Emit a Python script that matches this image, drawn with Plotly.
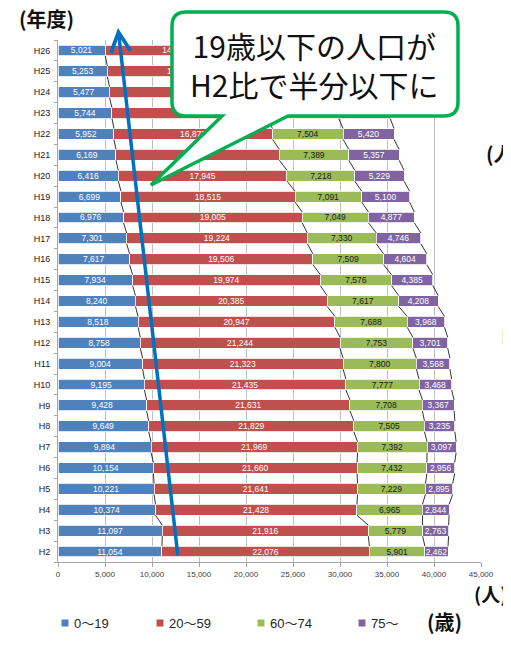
import plotly.graph_objects as go

# ---------------- data ----------------
years = ["H2", "H3", "H4", "H5", "H6", "H7", "H8", "H9", "H10", "H11", "H12", "H13",
         "H14", "H15", "H16", "H17", "H18", "H19", "H20", "H21", "H22", "H23", "H24", "H25", "H26"]
age_0_19 = [11054, 11097, 10374, 10221, 10154, 9894, 9649, 9428, 9195, 9004, 8758, 8518,
            8240, 7934, 7617, 7301, 6976, 6699, 6416, 6169, 5952, 5744, 5477, 5253, 5021]
age_20_59 = [22076, 21916, 21428, 21641, 21660, 21969, 21829, 21631, 21435, 21323, 21244, 20947,
             20385, 19974, 19506, 19224, 19005, 18515, 17945, 17380, 16873, 16420, 15960, 15470, 14960]
age_60_74 = [5901, 5779, 6965, 7229, 7432, 7392, 7505, 7708, 7777, 7800, 7753, 7688,
             7617, 7576, 7509, 7330, 7049, 7091, 7218, 7389, 7504, 7700, 7900, 8150, 8400]
age_75_up = [2462, 2763, 2844, 2895, 2956, 3097, 3235, 3367, 3468, 3568, 3701, 3968,
             4208, 4385, 4604, 4746, 4877, 5100, 5229, 5357, 5420, 5480, 5560, 5620, 5700]
series_names = ["0〜19", "20〜59", "60〜74", "75〜"]
x_ticks = [0, 5000, 10000, 15000, 20000, 25000, 30000, 35000, 40000, 45000]
# data labels hidden behind the callout in the original (series index -> hidden years)
hidden_labels = {1: {"H21", "H23", "H24"}, 2: {"H23", "H24", "H25", "H26"},
                 3: {"H23", "H24", "H25", "H26"}}

series = [age_0_19, age_20_59, age_60_74, age_75_up]
colors = ["#4F81BD", "#C0504D", "#9BBB59", "#8064A2"]
label_colors = ["white", "white", "#1a1a1a", "white"]

# page is offset by the default 8px body margin
OFF = 8
PAGE_W, PAGE_H = 511, 645
W, H = PAGE_W - OFF, PAGE_H - OFF
PL, PR, PT, PB = 58, 481, 40, 562          # plot area in page pixels
ML, MT = PL - OFF, PT - OFF
MR, MB = W - (PR - OFF), H - (PB - OFF)
PW, PH = PR - PL, PB - PT


def X(px):
    return (px - PL) / PW


def Y(py):
    return (PB - py) / PH


fig = go.Figure()

for si, (vals, name, col, lc) in enumerate(zip(series, series_names, colors, label_colors)):
    hid = hidden_labels.get(si, set())
    txt = ["" if yr in hid else f"{v:,}" for yr, v in zip(years, vals)]
    fig.add_trace(go.Bar(
        y=years, x=vals, name=name, orientation="h",
        marker=dict(color=col, line=dict(color="white", width=0.8)),
        width=0.52,
        text=txt, texttemplate="%{text}", textposition="inside", insidetextanchor="middle",
        constraintext="none",
        textfont=dict(size=8.5, color=lc, family="Liberation Sans"),
        showlegend=False,
    ))

# series lines (Excel style connectors between stacked segment edges)
cums = []
run = [0] * len(years)
for vals in series:
    run = [a + b for a, b in zip(run, vals)]
    cums.append(run)
hw = 0.26
lx, ly = [], []
for cum in cums:
    for i in range(len(years) - 1):
        lx += [cum[i], cum[i + 1], None]
        ly += [i + hw, i + 1 - hw, None]
fig.add_trace(go.Scatter(x=lx, y=ly, mode="lines", yaxis="y2",
                         line=dict(color="black", width=0.8), showlegend=False,
                         hoverinfo="skip"))

fig.update_layout(
    width=W, height=H,
    margin=dict(l=ML, r=MR, t=MT, b=MB, autoexpand=False),
    barmode="stack",
    bargap=0.48,
    plot_bgcolor="white", paper_bgcolor="white",
    font=dict(family="Liberation Sans, Noto Sans CJK JP", color="#262626"),
    showlegend=False,
    xaxis=dict(range=[0, 45000], tickvals=x_ticks, tickformat=",",
               showgrid=True, gridcolor="#BFBFBF", gridwidth=1,
               showline=True, linecolor="#A6A6A6", linewidth=1,
               ticks="outside", ticklen=4, tickcolor="#A6A6A6",
               tickfont=dict(size=8, color="#404040"), zeroline=False, fixedrange=True,
               automargin=False),
    yaxis=dict(type="category", categoryorder="array", categoryarray=years,
               range=[-0.5, len(years) - 0.5],
               showline=True, linecolor="#A6A6A6", linewidth=1,
               ticks="outside", tickson="boundaries", ticklen=3, tickcolor="#A6A6A6",
               tickfont=dict(size=9, color="#1a1a1a"), showgrid=False,
               ticklabelstandoff=5, automargin=False),
    yaxis2=dict(overlaying="y", range=[-0.5, len(years) - 0.5], visible=False),
)


def make_path(pts, close=True):
    s = ""
    for cmd, ps in pts:
        s += cmd + " ".join(f"{X(px):.5f},{Y(py):.5f}" for px, py in ps) + " "
    return s + ("Z" if close else "")


shapes = []
# callout bubble
Lc, Rc, Tc, Bc, r = 172, 458, 12, 116, 14
pts = [
    ("M", [(Lc + r, Tc)]),
    ("L", [(Rc - r, Tc)]),
    ("Q", [(Rc, Tc), (Rc, Tc + r)]),
    ("L", [(Rc, Bc - r)]),
    ("Q", [(Rc, Bc), (Rc - r, Bc)]),
    ("L", [(288, Bc)]),
    ("L", [(151, 185)]),
    ("L", [(222, Bc)]),
    ("L", [(Lc + r, Bc)]),
    ("Q", [(Lc, Bc), (Lc, Bc - r)]),
    ("L", [(Lc, Tc + r)]),
    ("Q", [(Lc, Tc), (Lc + r, Tc)]),
]
shapes.append(dict(type="path", xref="paper", yref="paper", path=make_path(pts),
                   line=dict(color="#00B050", width=3.5), fillcolor="white", layer="above"))

# partial neighbouring callout at right edge
L2, R2, T2, B2, r2 = 510, 560, 29, 111, 10
pts2 = [
    ("M", [(R2, T2)]), ("L", [(L2 + r2, T2)]), ("Q", [(L2, T2), (L2, T2 + r2)]),
    ("L", [(L2, B2 - r2)]), ("Q", [(L2, B2), (L2 + r2, B2)]), ("L", [(R2, B2)]),
]
shapes.append(dict(type="path", xref="paper", yref="paper", path=make_path(pts2),
                   line=dict(color="#00B050", width=3), fillcolor="white", layer="above"))

# legend squares
leg_sq = [65, 160, 261, 362]
leg_tx = [72, 167, 268, 369]
for c, col in zip(leg_sq, colors):
    shapes.append(dict(type="rect", xref="paper", yref="paper",
                       x0=X(c - 3.5), x1=X(c + 3.5), y0=Y(626.5), y1=Y(619.5),
                       fillcolor=col, line=dict(width=0)))
fig.update_layout(shapes=shapes)

annotations = []
for tx, name in zip(leg_tx, series_names):
    annotations.append(dict(x=X(tx), y=Y(623), xref="paper", yref="paper", text=name,
                            showarrow=False, xanchor="left", yanchor="middle",
                            font=dict(size=13, color="#262626",
                                      family="Liberation Sans, Noto Sans CJK JP")))
cjk = "Noto Sans CJK JP"
annotations += [
    dict(x=X(314), y=Y(65), xref="paper", yref="paper",
         text="19歳以下の人口が<br>H2比で半分以下に",
         showarrow=False, xanchor="center", yanchor="middle", align="center",
         font=dict(size=30, color="#111111", family=cjk)),
    dict(x=X(17), y=Y(18), xref="paper", yref="paper", text="<b>(年度)</b>",
         showarrow=False, xanchor="left", yanchor="middle",
         font=dict(size=20, color="#111111", family=cjk)),
    dict(x=X(472), y=Y(593), xref="paper", yref="paper", text="<b>(人)</b>",
         showarrow=False, xanchor="left", yanchor="middle",
         font=dict(size=19, color="#111111", family=cjk)),
    dict(x=X(425), y=Y(621), xref="paper", yref="paper", text="<b>(歳)</b>",
         showarrow=False, xanchor="left", yanchor="middle",
         font=dict(size=20, color="#111111", family=cjk)),
    dict(x=X(484), y=Y(153), xref="paper", yref="paper", text="<b>(人)</b>",
         showarrow=False, xanchor="left", yanchor="middle",
         font=dict(size=20, color="#111111", family=cjk)),
    dict(x=X(506), y=Y(345), xref="paper", yref="paper", text="<b>人口推移</b>",
         showarrow=False, xanchor="center", yanchor="middle", textangle=-90,
         font=dict(size=8, color="#111111", family=cjk)),
    # blue trend arrow
    dict(x=X(118), y=Y(28), xref="paper", yref="paper", text="",
         showarrow=True, ax=60, ay=529, axref="pixel", ayref="pixel",
         arrowhead=5, arrowsize=1.1, arrowwidth=3.5, arrowcolor="#0070C0",
         standoff=0, startstandoff=0),
]
fig.update_layout(annotations=annotations)

fig.write_html("out.html")
